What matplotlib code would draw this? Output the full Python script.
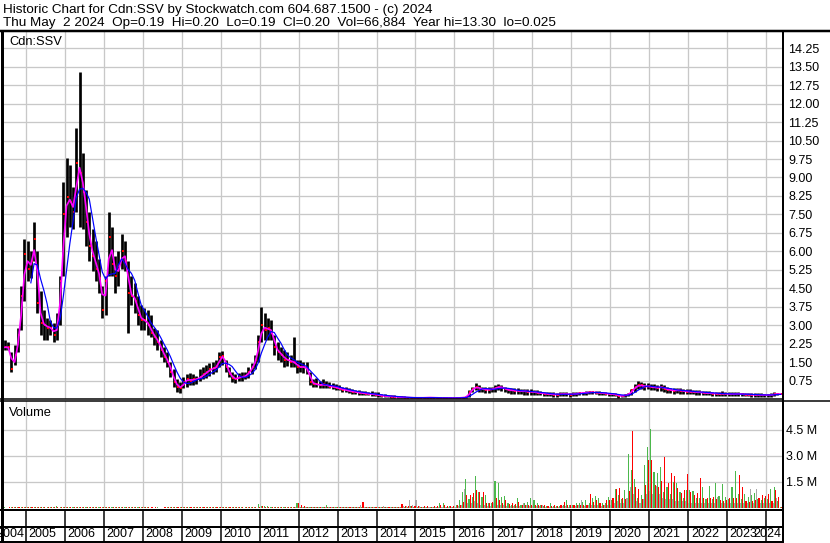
import numpy as np
import pandas as pd
import matplotlib
matplotlib.use("Agg")
import matplotlib.pyplot as plt
from matplotlib.lines import Line2D

plt.rcParams['font.family'] = ['Liberation Sans', 'DejaVu Sans']

W, H, DPI = 830, 543, 100

# monthly bars, first bar = June 2004, last = May 2024
first_year, first_month = 2004, 6

high = [
    2.4, 2.3, 1.9, 2.2, 2.9, 4.6, 6.5,                                   # 2004
    6.4, 6.0, 7.2, 6.0, 4.4, 3.6, 3.3, 3.2, 3.1, 3.5, 5.0, 8.8,          # 2005
    9.8, 9.5, 8.6, 11.0, 13.3, 10.0, 8.5, 7.6, 6.9, 6.4, 5.7, 4.6,       # 2006
    5.0, 7.6, 7.0, 5.8, 6.0, 6.7, 6.4, 5.6, 5.0, 4.7, 4.2, 3.8,          # 2007
    3.7, 3.6, 3.4, 2.9, 2.8, 2.4, 2.1, 1.9, 1.5, 1.2, 0.8, 0.7,          # 2008
    0.9, 1.0, 1.05, 1.0, 0.95, 1.2, 1.3, 1.4, 1.45, 1.5, 1.6, 1.9,       # 2009
    1.95, 1.6, 1.3, 1.1, 1.0, 1.05, 1.1, 1.1, 1.3, 1.45, 1.8, 2.6,       # 2010
    3.75, 3.5, 3.3, 3.2, 2.6, 2.3, 2.1, 2.0, 1.9, 1.8, 2.5, 1.6,         # 2011
    1.6, 1.5, 1.5, 1.1, 0.8, 0.85, 0.75, 0.8, 0.75, 0.7, 0.65, 0.6,      # 2012
    0.55, 0.5, 0.48, 0.45, 0.4, 0.38, 0.35, 0.33, 0.32, 0.3, 0.33, 0.3,  # 2013
    0.28, 0.22, 0.2, 0.18, 0.16, 0.15, 0.13, 0.12, 0.11, 0.1, 0.09, 0.09,  # 2014
    0.08, 0.07, 0.08, 0.1, 0.09, 0.08, 0.07, 0.07, 0.06, 0.07, 0.07, 0.06,  # 2015
    0.06, 0.07, 0.08, 0.12, 0.38, 0.5, 0.65, 0.55, 0.5, 0.48, 0.47, 0.5,  # 2016
    0.55, 0.6, 0.58, 0.5, 0.46, 0.45, 0.44, 0.45, 0.42, 0.42, 0.4, 0.4,  # 2017
    0.38, 0.35, 0.32, 0.3, 0.3, 0.28, 0.28, 0.26, 0.27, 0.3, 0.28, 0.26,  # 2018
    0.27, 0.28, 0.3, 0.3, 0.32, 0.34, 0.34, 0.33, 0.32, 0.3, 0.28, 0.26,  # 2019
    0.26, 0.24, 0.2, 0.18, 0.2, 0.24, 0.42, 0.6, 0.72, 0.7, 0.65, 0.65,  # 2020
    0.62, 0.6, 0.58, 0.62, 0.58, 0.5, 0.46, 0.45, 0.46, 0.44, 0.42, 0.42,  # 2021
    0.4, 0.38, 0.38, 0.36, 0.34, 0.33, 0.32, 0.3, 0.3, 0.3, 0.32, 0.3,   # 2022
    0.28, 0.27, 0.28, 0.3, 0.26, 0.25, 0.24, 0.24, 0.23, 0.24, 0.23, 0.22,  # 2023
    0.22, 0.24, 0.28, 0.26, 0.2,                                         # 2024
]
low = [
    2.0, 2.0, 1.1, 1.4, 1.9, 2.8, 4.0,
    4.8, 4.9, 5.6, 3.5, 2.6, 2.4, 2.4, 2.6, 2.3, 2.4, 3.0, 5.0,
    6.6, 7.0, 6.9, 7.6, 7.0, 6.9, 6.2, 5.6, 5.2, 4.8, 4.3, 3.3,
    3.4, 5.0, 5.0, 4.3, 4.6, 5.3, 5.2, 2.7, 3.8, 3.5, 3.0, 2.8,
    2.8, 2.6, 2.5, 2.2, 2.0, 1.7, 1.5, 1.3, 0.9, 0.5, 0.3, 0.25,
    0.45, 0.5, 0.55, 0.55, 0.6, 0.75, 0.8, 0.85, 0.95, 1.0, 1.1, 1.3,
    1.4, 1.1, 0.9, 0.7, 0.65, 0.75, 0.75, 0.8, 0.85, 1.0, 1.2, 1.5,
    2.3, 2.4, 2.4, 2.4, 1.8, 1.6, 1.5, 1.3, 1.35, 1.3, 1.3, 1.05,
    1.1, 1.05, 1.0, 0.55, 0.5, 0.5, 0.45, 0.45, 0.45, 0.45, 0.4, 0.35,
    0.35, 0.3, 0.28, 0.25, 0.22, 0.2, 0.18, 0.17, 0.16, 0.15, 0.14, 0.12,
    0.1, 0.08, 0.08, 0.07, 0.06, 0.06, 0.05, 0.04, 0.04, 0.04, 0.03, 0.03,
    0.03, 0.03, 0.035, 0.035, 0.04, 0.035, 0.03, 0.025, 0.025, 0.03, 0.03, 0.03,
    0.03, 0.03, 0.04, 0.04, 0.1, 0.28, 0.35, 0.3, 0.28, 0.25, 0.26, 0.3,
    0.3, 0.35, 0.32, 0.28, 0.25, 0.22, 0.22, 0.2, 0.2, 0.18, 0.18, 0.17,
    0.18, 0.16, 0.15, 0.14, 0.12, 0.12, 0.1, 0.1, 0.12, 0.12, 0.12, 0.1,
    0.12, 0.14, 0.15, 0.16, 0.17, 0.2, 0.2, 0.2, 0.18, 0.16, 0.15, 0.14,
    0.13, 0.12, 0.06, 0.07, 0.1, 0.12, 0.16, 0.3, 0.4, 0.4, 0.38, 0.4,
    0.35, 0.35, 0.32, 0.34, 0.3, 0.26, 0.24, 0.22, 0.24, 0.22, 0.2, 0.2,
    0.2, 0.2, 0.18, 0.18, 0.16, 0.16, 0.15, 0.14, 0.14, 0.14, 0.14, 0.13,
    0.12, 0.12, 0.12, 0.13, 0.12, 0.11, 0.11, 0.1, 0.1, 0.1, 0.09, 0.09,
    0.09, 0.1, 0.12, 0.15, 0.19,
]
close = [
    2.1, 2.1, 1.2, 1.8, 2.6, 4.2, 5.9,
    5.3, 5.6, 6.5, 3.9, 3.1, 3.0, 2.9, 2.9, 2.6, 3.0, 4.8, 7.5,
    8.2, 8.0, 7.6, 9.6, 9.2, 8.4, 7.2, 6.2, 5.8, 5.3, 4.9, 3.6,
    4.8, 6.6, 5.5, 5.0, 5.4, 6.0, 5.6, 4.3, 4.2, 4.0, 3.4, 3.2,
    3.2, 3.0, 2.7, 2.5, 2.3, 2.0, 1.7, 1.5, 1.1, 0.7, 0.5, 0.45,
    0.7, 0.8, 0.75, 0.8, 0.8, 0.9, 1.0, 1.1, 1.2, 1.25, 1.3, 1.7,
    1.75, 1.3, 1.0, 0.85, 0.8, 0.9, 0.9, 0.95, 1.1, 1.3, 1.6, 2.3,
    3.0, 2.8, 2.9, 2.7, 2.1, 1.9, 1.8, 1.6, 1.6, 1.5, 1.5, 1.3,
    1.3, 1.3, 1.2, 0.7, 0.6, 0.6, 0.55, 0.6, 0.55, 0.5, 0.5, 0.45,
    0.42, 0.38, 0.35, 0.32, 0.3, 0.28, 0.25, 0.24, 0.22, 0.2, 0.2, 0.18,
    0.15, 0.13, 0.12, 0.11, 0.1, 0.09, 0.08, 0.07, 0.06, 0.06, 0.05, 0.05,
    0.05, 0.05, 0.05, 0.06, 0.06, 0.05, 0.045, 0.04, 0.04, 0.045, 0.045, 0.04,
    0.04, 0.05, 0.06, 0.08, 0.3, 0.42, 0.5, 0.42, 0.4, 0.38, 0.38, 0.4,
    0.45, 0.5, 0.46, 0.4, 0.36, 0.35, 0.34, 0.33, 0.32, 0.31, 0.3, 0.29,
    0.28, 0.25, 0.24, 0.22, 0.2, 0.2, 0.18, 0.18, 0.2, 0.2, 0.2, 0.18,
    0.2, 0.22, 0.24, 0.25, 0.26, 0.28, 0.27, 0.26, 0.25, 0.24, 0.22, 0.2,
    0.2, 0.18, 0.12, 0.13, 0.15, 0.2, 0.35, 0.5, 0.55, 0.55, 0.5, 0.52,
    0.48, 0.47, 0.45, 0.5, 0.42, 0.38, 0.36, 0.34, 0.36, 0.34, 0.32, 0.3,
    0.3, 0.29, 0.28, 0.27, 0.25, 0.24, 0.24, 0.22, 0.22, 0.21, 0.22, 0.21,
    0.2, 0.2, 0.2, 0.22, 0.19, 0.18, 0.18, 0.17, 0.17, 0.17, 0.16, 0.16,
    0.16, 0.17, 0.2, 0.2, 0.2,
]

# biggest up-day / down-day / unchanged-day volume in each month, millions
vol_up = [
    0.03, 0.02, 0.03, 0.04, 0.05, 0.06, 0.05,
    0.05, 0.04, 0.05, 0.04, 0.04, 0.03, 0.03, 0.04, 0.05, 0.12, 0.06, 0.08,
    0.07, 0.05, 0.05, 0.06, 0.05, 0.04, 0.04, 0.03, 0.04, 0.03, 0.03, 0.03,
    0.04, 0.05, 0.03, 0.03, 0.03, 0.04, 0.03, 0.04, 0.03, 0.03, 0.03, 0.03,
    0.03, 0.03, 0.02, 0.02, 0.03, 0.02, 0.02, 0.03, 0.03, 0.03, 0.04, 0.06,
    0.04, 0.03, 0.03, 0.04, 0.03, 0.03, 0.04, 0.03, 0.03, 0.04, 0.04, 0.05,
    0.04, 0.03, 0.03, 0.03, 0.03, 0.03, 0.03, 0.03, 0.04, 0.05, 0.08, 0.22,
    0.14, 0.12, 0.1, 0.08, 0.06, 0.05, 0.05, 0.05, 0.06, 0.05, 0.08, 0.29,
    0.08, 0.06, 0.08, 0.06, 0.05, 0.05, 0.05, 0.06, 0.17, 0.06, 0.05, 0.05,
    0.05, 0.05, 0.04, 0.04, 0.04, 0.04, 0.05, 0.06, 0.05, 0.04, 0.04, 0.04,
    0.05, 0.05, 0.04, 0.06, 0.05, 0.05, 0.06, 0.06, 0.06, 0.08, 0.1, 0.08,
    0.08, 0.06, 0.08, 0.08, 0.06, 0.08, 0.08, 0.27, 0.27, 0.08, 0.1, 0.08,
    0.15, 0.46, 0.94, 1.67, 0.5, 0.62, 1.85, 0.94, 0.65, 0.75, 0.3, 0.27,
    1.56, 1.42, 0.65, 0.71, 0.3, 0.2, 0.2, 0.56, 0.15, 0.3, 0.37, 0.56,
    0.46, 0.27, 0.2, 0.12, 0.12, 0.27, 0.12, 0.1, 0.1, 0.15, 0.46, 0.15,
    0.2, 0.3, 0.3, 0.37, 0.46, 0.3, 0.56, 0.7, 0.56, 0.3, 0.3, 0.65,
    0.46, 1.08, 0.75, 0.5, 1.04, 3.1, 2.19, 1.67, 0.6, 0.75, 2.48, 3.5,
    4.56, 2.1, 2.0, 2.38, 0.9, 1.23, 0.8, 1.52, 1.42, 0.94, 0.6, 1.04,
    1.04, 1.0, 0.6, 0.55, 1.23, 0.5, 1.27, 0.5, 1.42, 0.7, 1.38, 0.65,
    0.5, 1.23, 2.15, 0.8, 0.5, 0.8, 0.62, 0.75, 0.85, 0.5, 0.45, 0.55,
    0.5, 1.08, 1.19, 0.4, 0.06,
]
vol_down = [
    0.02, 0.03, 0.04, 0.03, 0.04, 0.05, 0.06,
    0.05, 0.05, 0.04, 0.06, 0.05, 0.04, 0.03, 0.03, 0.04, 0.05, 0.05, 0.06,
    0.05, 0.06, 0.05, 0.05, 0.06, 0.05, 0.04, 0.04, 0.03, 0.03, 0.04, 0.04,
    0.03, 0.04, 0.04, 0.03, 0.03, 0.03, 0.04, 0.04, 0.03, 0.03, 0.03, 0.03,
    0.03, 0.03, 0.03, 0.03, 0.02, 0.02, 0.03, 0.03, 0.04, 0.03, 0.03, 0.04,
    0.03, 0.03, 0.03, 0.03, 0.03, 0.03, 0.03, 0.03, 0.03, 0.03, 0.04, 0.04,
    0.04, 0.04, 0.03, 0.03, 0.03, 0.03, 0.03, 0.03, 0.03, 0.04, 0.05, 0.08,
    0.1, 0.08, 0.08, 0.07, 0.06, 0.05, 0.05, 0.05, 0.05, 0.05, 0.06, 0.29,
    0.2, 0.1, 0.06, 0.08, 0.05, 0.05, 0.05, 0.06, 0.06, 0.05, 0.05, 0.05,
    0.05, 0.05, 0.04, 0.04, 0.04, 0.05, 0.05, 0.33, 0.06, 0.05, 0.04, 0.05,
    0.06, 0.05, 0.06, 0.05, 0.06, 0.06, 0.08, 0.25, 0.1, 0.1, 0.12, 0.1,
    0.1, 0.08, 0.12, 0.1, 0.08, 0.1, 0.1, 0.2, 0.15, 0.1, 0.12, 0.12,
    0.15, 0.2, 0.37, 0.75, 0.75, 0.85, 1.04, 0.94, 0.94, 0.27, 0.3, 0.37,
    0.56, 0.46, 0.27, 0.46, 0.25, 0.27, 0.25, 0.37, 0.2, 0.15, 0.15, 0.2,
    0.2, 0.2, 0.2, 0.15, 0.12, 0.12, 0.15, 0.12, 0.17, 0.37, 0.2, 0.2,
    0.15, 0.2, 0.15, 0.2, 0.2, 0.79, 0.35, 0.46, 0.3, 0.2, 0.46, 0.46,
    0.56, 1.08, 1.13, 0.6, 0.5, 1.0, 4.44, 1.19, 1.08, 0.5, 1.33, 2.77,
    2.77, 1.33, 1.23, 1.56, 2.92, 1.42, 2.0, 1.85, 1.13, 0.85, 1.04, 1.96,
    0.94, 0.75, 0.85, 1.71, 0.6, 0.6, 0.55, 0.65, 0.5, 0.45, 0.4, 0.45,
    0.6, 0.55, 0.6, 1.9, 1.23, 0.4, 0.35, 0.4, 0.45, 0.55, 0.75, 0.7,
    0.79, 0.4, 1.04, 0.65, 0.07,
]
vol_flat = [
    0, 0, 0, 0, 0, 0, 0,
    0, 0, 0, 0, 0, 0, 0, 0, 0, 0, 0, 0,
    0, 0, 0, 0, 0, 0, 0, 0, 0, 0, 0, 0,
    0, 0, 0, 0, 0, 0, 0, 0, 0, 0, 0, 0,
    0, 0, 0, 0, 0, 0, 0, 0, 0, 0, 0, 0,
    0, 0, 0, 0, 0, 0, 0, 0, 0, 0, 0, 0,
    0, 0, 0, 0, 0, 0, 0, 0, 0, 0, 0, 0,
    0.02, 0.02, 0.02, 0.02, 0.02, 0.02, 0.02, 0.02, 0.02, 0.02, 0.02, 0.03,
    0.03, 0.04, 0.03, 0.04, 0.03, 0.03, 0.03, 0.03, 0.03, 0.03, 0.03, 0.03,
    0.08, 0.08, 0.06, 0.04, 0.04, 0.03, 0.04, 0.15, 0.04, 0.03, 0.03, 0.04,
    0.04, 0.08, 0.13, 0.05, 0.05, 0.05, 0.06, 0.08, 0.1, 0.1, 0.46, 0.15,
    0.46, 0.1, 0.08, 0.08, 0.06, 0.06, 0.06, 0.08, 0.08, 0.06, 0.06, 0.06,
    0.06, 0.1, 0.2, 1.08, 0.3, 0.3, 0.4, 0.3, 0.2, 0.15, 0.1, 0.1,
    0.3, 0.2, 0.15, 0.15, 0.1, 0.1, 0.1, 0.1, 0.1, 0.3, 0.2, 0.1,
    0.1, 0.1, 0.1, 0.15, 0.08, 0.08, 0.08, 0.08, 0.08, 0.1, 0.1, 0.08,
    0.08, 0.1, 0.15, 0.46, 0.1, 0.15, 0.15, 0.2, 0.15, 0.1, 0.15, 0.15,
    0.2, 0.3, 0.4, 0.3, 0.3, 0.6, 1.2, 0.8, 0.4, 0.3, 0.5, 0.8,
    1.0, 0.8, 1.27, 0.8, 0.6, 0.5, 0.5, 0.5, 0.4, 0.4, 0.4, 0.4,
    0.3, 0.3, 0.3, 0.3, 0.3, 0.3, 0.3, 0.3, 0.3, 0.65, 0.3, 0.3,
    0.3, 0.3, 0.3, 0.3, 0.3, 0.3, 0.3, 1.08, 0.3, 1.08, 0.3, 0.3,
    0.3, 0.3, 0.3, 0.6, 0.0,
]

years = list(range(2004, 2025))
price_ticks = [0.75, 1.50, 2.25, 3.00, 3.75, 4.50, 5.25, 6.00, 6.75, 7.50,
               8.25, 9.00, 9.75, 10.50, 11.25, 12.00, 12.75, 13.50, 14.25]
vol_ticks = [1.5, 3.0, 4.5]
vol_tick_labels = ["1.5 M", "3.0 M", "4.5 M"]

header1 = "Historic Chart for Cdn:SSV by Stockwatch.com 604.687.1500 - (c) 2024"
header2 = ("Thu May  2 2024  Op=0.19  Hi=0.20  Lo=0.19  Cl=0.20  "
           "Vol=66,884  Year hi=13.30  lo=0.025")

GRID = "#c8c8c8"
GREEN = "#4cb84c"
RED = "#ff0000"
GREY = "#a8a8a8"
MAGENTA = "#ff00ff"
BLUE = "#0000ff"
PX = 72 / DPI  # one pixel in points


def fx(px):
    return px / W


def fy(py):
    return 1 - py / H


def box(x0, y0, x1, y1):
    return [fx(x0), fy(y1), (x1 - x0) / W, (y1 - y0) / H]


def fig_line(fig, x0, y0, x1, y1, lw):
    fig.add_artist(Line2D([fx(x0), fx(x1)], [fy(y0), fy(y1)],
                          transform=fig.transFigure, color="black",
                          lw=lw * PX, solid_capstyle="butt"))


n = len(close)
t = np.array([first_year + (first_month - 1 + i + 0.5) / 12 for i in range(n)])
close_s = pd.Series(close)
ma_short = close_s.rolling(2, min_periods=1).mean()
ma_long = close_s.rolling(5).mean()
ma_long[t < 2005.1] = np.nan   # long average only drawn once it has history

xlim = (2004.41, 2024.41)

fig = plt.figure(figsize=(W / DPI, H / DPI), dpi=DPI)

# ---- price panel
ax_p = fig.add_axes(box(3, 32, 782, 399))
ax_p.set_xlim(*xlim)
ax_p.set_ylim(0, 14.91)
for y in years[1:]:
    ax_p.axvline(y, color=GRID, lw=1.3 * PX, zorder=0)
for v in price_ticks:
    ax_p.axhline(v, color=GRID, lw=1.3 * PX, zorder=0)
ax_p.vlines(t, low, high, color="black", lw=2.7 * PX, zorder=2)
ax_p.plot(t + 0.3 / 12, close, "s", color=RED, ms=2.6 * PX, mew=0, zorder=3)
ax_p.plot(t, ma_short, color=MAGENTA, lw=1.7 * PX, zorder=4)
ax_p.plot(t, ma_long, color=BLUE, lw=1.2 * PX, zorder=5)
ax_p.yaxis.tick_right()
ax_p.set_yticks(price_ticks)
ax_p.set_yticklabels([f"{v:.2f}" for v in price_ticks])
ax_p.set_xticks([])
ax_p.tick_params(axis="y", length=0, pad=4.5, labelsize=9)
for s in ax_p.spines.values():
    s.set_visible(False)

# ---- volume panel
ax_v = fig.add_axes(box(3, 401, 782, 508))
ax_v.set_xlim(*xlim)
ax_v.set_ylim(0, 6.17)
for y in years[1:]:
    ax_v.axvline(y, color=GRID, lw=1.3 * PX, zorder=0)
for v in vol_ticks:
    ax_v.axhline(v, color=GRID, lw=1.3 * PX, zorder=0)
bw = 0.34 / 12
ax_v.bar(t - bw, vol_flat, width=bw, color=GREY, lw=0, zorder=2)
ax_v.bar(t, vol_up, width=bw, color=GREEN, lw=0, zorder=2)
ax_v.bar(t + bw, vol_down, width=bw, color=RED, lw=0, zorder=2)
ax_v.yaxis.tick_right()
ax_v.set_yticks(vol_ticks)
ax_v.set_yticklabels(vol_tick_labels)
ax_v.set_xticks([])
ax_v.tick_params(axis="y", length=0, pad=3, labelsize=9)
for s in ax_v.spines.values():
    s.set_visible(False)

# ---- year strip
ax_x = fig.add_axes(box(3, 510, 782, 542))
ax_x.set_xlim(*xlim)
ax_x.set_ylim(0, 1)
ax_x.axis("off")
for y in years[1:]:
    ax_x.axvline(y, color="black", lw=1.5 * PX)
ax_x.text(years[1] - 0.03, 0.25, str(years[0]), ha="right", va="center",
          fontsize=9, clip_on=False)
for y in years[1:-1]:
    ax_x.text(y + 0.07, 0.25, str(y), ha="left", va="center",
              fontsize=9, clip_on=True)
# last label is pushed left so it ends at the right frame
ax_x.text(xlim[1] - 0.02, 0.25, str(years[-1]), ha="right", va="center",
          fontsize=9, clip_on=True)

# ---- frame lines
fig_line(fig, 0, 31, W, 31, 2.5)
fig_line(fig, 1.5, 31, 1.5, H, 3)
fig_line(fig, 782.5, 31, 782.5, H, 2)
fig_line(fig, 0, 398.5, 782, 398.5, 1.5)
fig_line(fig, 0, 401, W, 401, 1.5)
fig_line(fig, 0, 509.5, 782, 509.5, 2)
fig_line(fig, 0, 527, 782, 527, 2)
fig_line(fig, 0, 542, 782, 542, 2)

# ---- texts
fig.text(fx(3), fy(10), header1, ha="left", va="center", fontsize=9.7)
fig.text(fx(3), fy(23), header2, ha="left", va="center", fontsize=9.7)
fig.text(fx(9), fy(42), "Cdn:SSV", ha="left", va="center", fontsize=9.3)
fig.text(fx(9), fy(413), "Volume", ha="left", va="center", fontsize=9.3)

fig.savefig("out.png", dpi=DPI)
